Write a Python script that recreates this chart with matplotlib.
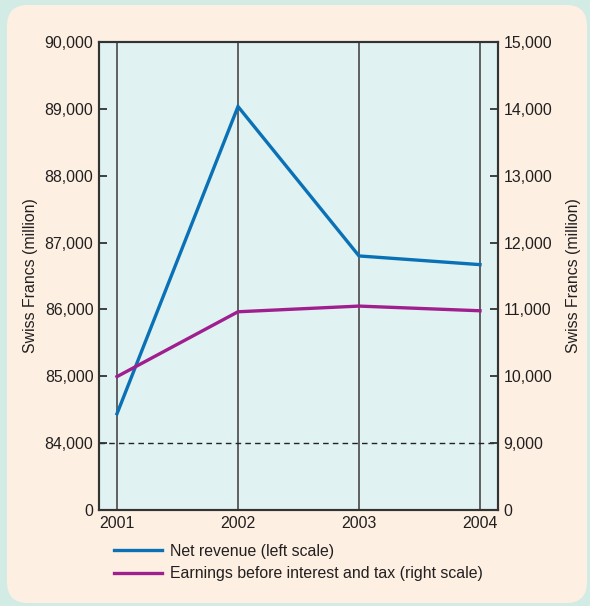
import matplotlib
matplotlib.use("Agg")
import matplotlib.pyplot as plt
from matplotlib.patches import FancyBboxPatch
from matplotlib.lines import Line2D

plt.rcParams['font.family'] = ['Liberation Sans', 'DejaVu Sans']

years = [2001, 2002, 2003, 2004]
net_revenue = [84440, 89035, 86800, 86670]      # left scale
ebit = [9995, 10965, 11050, 10980]              # right scale

left_ticks = [83000, 84000, 85000, 86000, 87000, 88000, 89000, 90000]
left_labels = ['0', '84,000', '85,000', '86,000', '87,000', '88,000', '89,000', '90,000']
right_ticks = [8000, 9000, 10000, 11000, 12000, 13000, 14000, 15000]
right_labels = ['0', '9,000', '10,000', '11,000', '12,000', '13,000', '14,000', '15,000']
year_labels = ['2001', '2002', '2003', '2004']

text_col = '#231f20'
blue = '#0a71b6'
purple = '#a01f8f'
grid_col = '#555555'

fig = plt.figure(figsize=(5.9, 6.06), dpi=100)
fig.patch.set_facecolor('#d3ebe5')

panel = FancyBboxPatch((7 / 590, 3 / 606), (587 - 7) / 590, (601 - 3) / 606,
                       boxstyle="round,pad=0,rounding_size=0.035",
                       transform=fig.transFigure, facecolor='#fdf0e2',
                       edgecolor='none', zorder=-10)
fig.patches.append(panel)

ax = fig.add_axes([99 / 590, 1 - 510 / 606, (498 - 99) / 590, (510 - 42) / 606])
ax.set_facecolor('#e0f2f2')
ax.set_xlim(2001 - 18 / 121, 2004 + 18 / 121)
ax.set_ylim(83000, 90000)

for y in years:
    ax.axvline(y, color=grid_col, lw=1.3, zorder=1)
ax.axhline(84000, color='#222222', lw=1.0, ls=(0, (4, 3)), zorder=1)

ax.plot(years, net_revenue, color=blue, lw=2.4, zorder=3, solid_joinstyle='miter')

ax2 = ax.twinx()
ax2.set_ylim(8000, 15000)
ax2.plot(years, ebit, color=purple, lw=2.4, zorder=3)

ax.set_yticks(left_ticks)
ax.set_yticklabels(left_labels)
ax2.set_yticks(right_ticks)
ax2.set_yticklabels(right_labels)
ax.set_xticks(years)
ax.set_xticklabels(year_labels)

for a in (ax, ax2):
    for s in a.spines.values():
        s.set_color('#333333')
        s.set_linewidth(1.5)
fs = 11.4
ax.tick_params(axis='y', direction='in', length=6, width=1.3, color='#333333',
               labelsize=fs, labelcolor=text_col, pad=4)
ax2.tick_params(axis='y', direction='in', length=6, width=1.3, color='#333333',
                labelsize=fs, labelcolor=text_col, pad=4)
ax.tick_params(axis='x', length=0, labelsize=fs, labelcolor=text_col, pad=4)

ax.set_ylabel('Swiss Francs (million)', fontsize=fs, color=text_col, labelpad=5)
ax2.set_ylabel('Swiss Francs (million)', fontsize=fs, color=text_col, labelpad=10,
               rotation=90)

handles = [Line2D([], [], color=blue, lw=2.4),
           Line2D([], [], color=purple, lw=2.4)]
fig.legend(handles, ['Net revenue (left scale)',
                     'Earnings before interest and tax (right scale)'],
           loc='upper left', bbox_to_anchor=(114 / 590, 1 - 544 / 606),
           frameon=False, fontsize=fs, handlelength=3.0, handletextpad=0.55,
           labelspacing=0.45, labelcolor=text_col, borderpad=0, borderaxespad=0)

fig.savefig('out.png', dpi=100, facecolor=fig.get_facecolor())
